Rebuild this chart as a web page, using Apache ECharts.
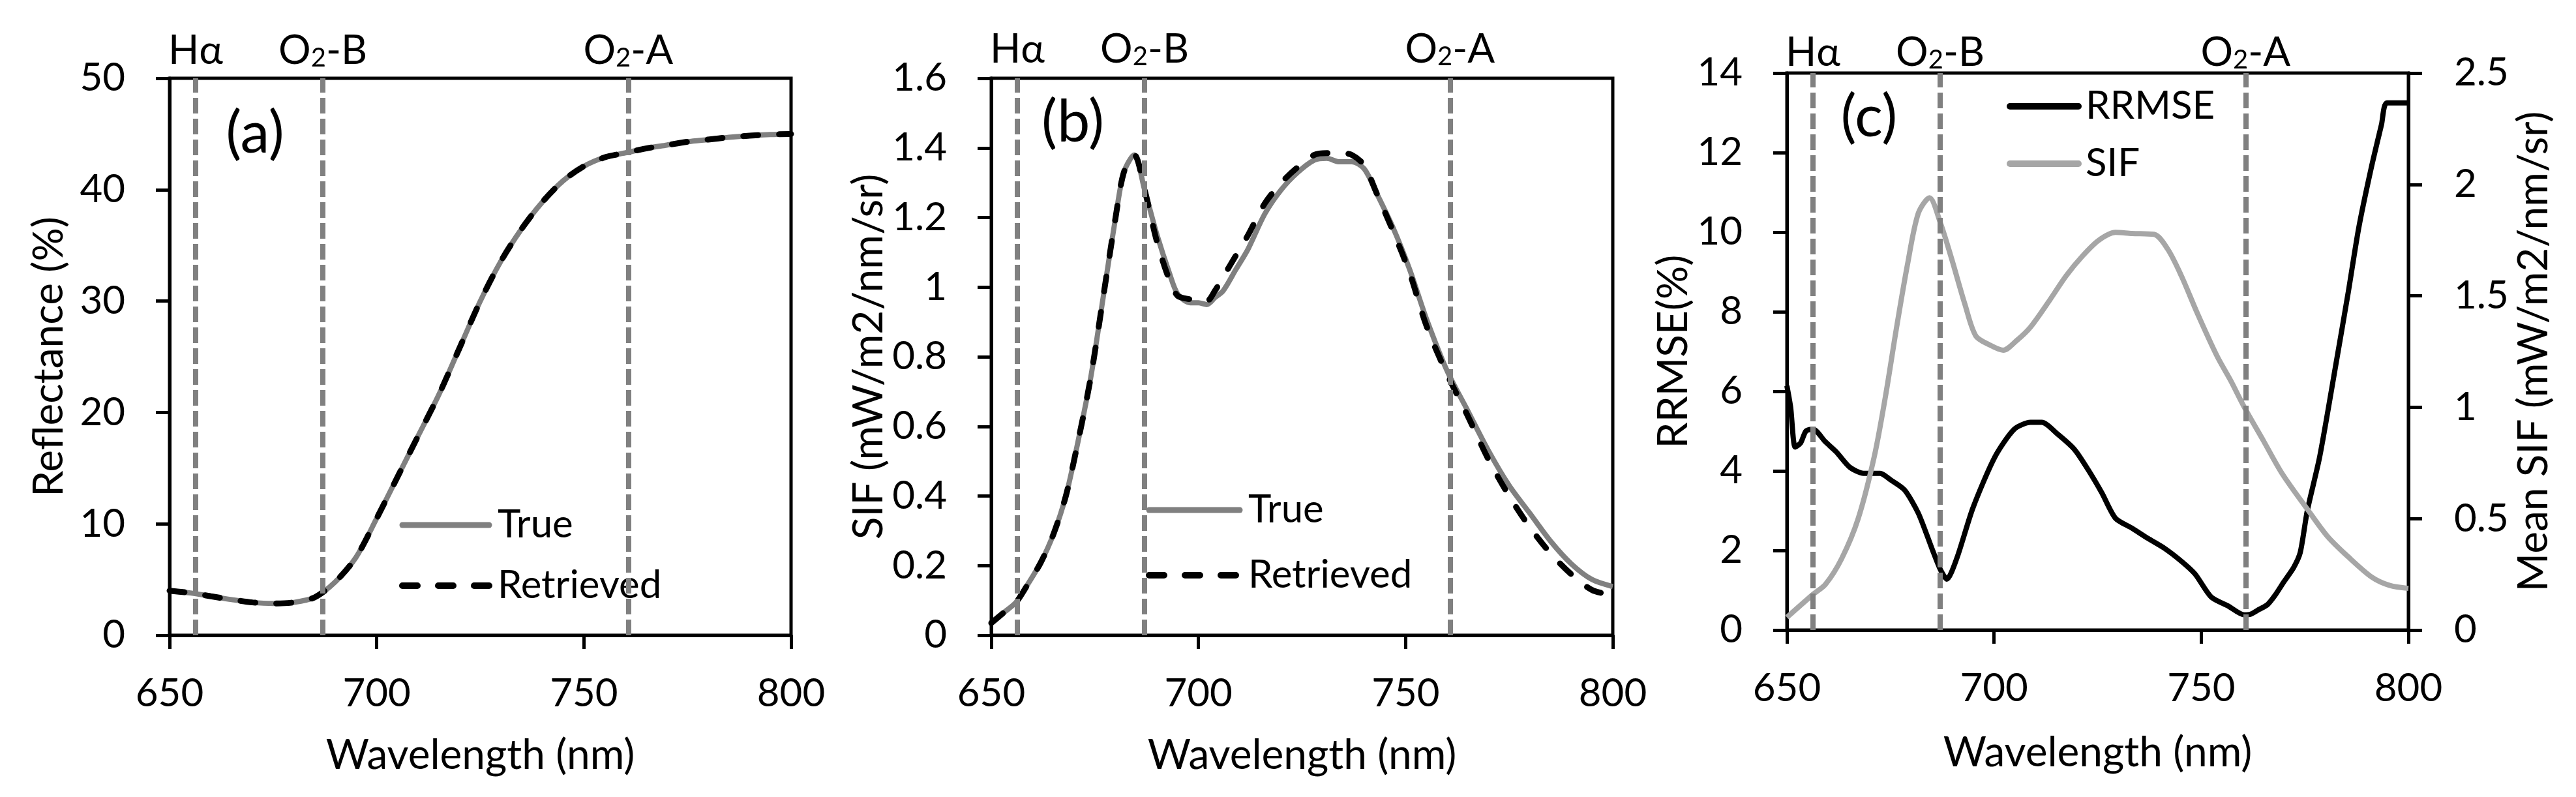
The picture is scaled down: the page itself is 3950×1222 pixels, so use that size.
<!DOCTYPE html>
<html><head><meta charset="utf-8">
<script src="https://cdn.jsdelivr.net/npm/echarts@6/dist/echarts.min.js"></script>
<style>html,body{margin:0;padding:0;background:#fff}#c{width:3950px;height:1222px}</style>
</head><body><div id="c"></div>
<script>
const FONT = 'Lato, "Noto Sans", "DejaVu Sans", sans-serif';

// ---------- Panel (a): reflectance ----------
const reflWl = [650,655,660,665,670,675,680,685,690,695,700,705,710,715,720,725,730,735,740,745,750,755,760,765,770,775,780,785,790,795,800];
const reflTrue = [4.0,3.8,3.5,3.2,2.95,2.85,2.95,3.4,4.8,7.0,10.5,14.2,17.9,21.6,25.8,30.0,33.6,36.5,38.9,40.8,42.1,42.9,43.3,43.7,44.0,44.3,44.5,44.7,44.85,44.95,45.0];
const reflRetrieved = [4.0,3.8,3.5,3.2,2.95,2.85,2.95,3.4,4.8,7.0,10.5,14.2,17.9,21.6,25.8,30.0,33.6,36.5,38.9,40.8,42.1,42.9,43.3,43.7,44.0,44.3,44.5,44.7,44.85,44.95,45.0];

// ---------- Panel (b): SIF ----------
const sifWl = [650,653,656,659,662,665,668,671,674,677,680,682,684.5,687,690,693,695,698,700,702,704,706,709,712,716,720,724,728,731,734,737,740,743,747,751,755,760,765,770,775,780,785,790,795,800];
const sifTrue = [0.035,0.065,0.095,0.15,0.21,0.29,0.40,0.56,0.74,0.97,1.2,1.33,1.38,1.28,1.15,1.04,0.98,0.955,0.955,0.95,0.97,0.99,1.05,1.11,1.21,1.28,1.33,1.365,1.37,1.36,1.36,1.34,1.27,1.17,1.05,0.91,0.76,0.645,0.53,0.43,0.35,0.27,0.205,0.16,0.14];
const sifRetrieved = [0.035,0.065,0.095,0.15,0.21,0.29,0.40,0.56,0.74,0.97,1.2,1.33,1.38,1.28,1.13,1.02,0.975,0.965,0.96,0.96,0.99,1.03,1.09,1.15,1.24,1.30,1.345,1.38,1.385,1.385,1.38,1.35,1.27,1.16,1.04,0.89,0.75,0.63,0.505,0.40,0.31,0.235,0.175,0.13,0.115];

// ---------- Panel (c): RRMSE and mean SIF ----------
const rrmseWl = [650,650.9,652,653.3,654.6,656.3,659.3,661.9,665.2,668.5,672.5,675.1,678.4,681.7,685,687,688.6,691,694.9,700.2,704.9,708.8,711.5,715.4,719.4,722.7,726,729.3,733.3,737.2,741.2,745.2,748.5,752.4,756.4,760.4,762,764,766,768,770,772.3,773.9,775.6,778.6,782.7,785.5,788,791,793.5,794.8,800];
const rrmse = [6.14,5.6,4.6,4.7,5.0,5.05,4.73,4.48,4.09,3.94,3.94,3.77,3.52,2.94,2.05,1.53,1.28,1.8,3.07,4.35,5.05,5.22,5.22,4.92,4.54,4.03,3.45,2.81,2.56,2.3,2.05,1.73,1.41,0.83,0.61,0.38,0.40,0.52,0.64,0.9,1.22,1.57,1.95,3.0,4.36,6.8,8.5,10.1,11.6,12.7,13.25,13.25];
const meanSifWl = [650,656.3,659.3,663.2,667.2,671.1,673.8,676.4,679.1,681.7,684.4,687,689.7,693,695.6,698.9,702.2,705.5,708.8,713.4,717.4,721.4,725.3,729.3,733.3,738.6,741.9,745.2,749.1,753.8,757.1,760.4,765,769.6,775.9,780.5,785.4,791.2,795.5,800];
const meanSif = [0.057,0.16,0.205,0.32,0.50,0.78,1.05,1.35,1.64,1.87,1.94,1.83,1.67,1.46,1.32,1.28,1.256,1.30,1.36,1.48,1.59,1.68,1.75,1.785,1.78,1.776,1.71,1.59,1.42,1.23,1.12,1.0,0.85,0.70,0.535,0.42,0.33,0.237,0.2,0.187];

// ---------- Absorption bands / labels ----------
const bandPos = [656.3, 687, 760.7];
const bandLabels = ['{n|Hα}', '{n|O}{s|2}{n|-B}', '{n|O}{s|2}{n|-A}'];
const panelLetters = ['(a)', '(b)', '(c)'];
const xTicks = [650, 700, 750, 800];
const yTicksA = [0, 10, 20, 30, 40, 50];
const yTicksB = [0, 0.2, 0.4, 0.6, 0.8, 1, 1.2, 1.4, 1.6];
const yTicksC = [0, 2, 4, 6, 8, 10, 12, 14];
const yTicksC2 = [0, 0.5, 1, 1.5, 2, 2.5];

const pairs = (xs, ys) => xs.map((x, i) => [x, ys[i]]);
const ticksOf = t => ({min: t[0], max: t[t.length - 1], interval: t[1] - t[0]});

const GRAY = '#808080', LIGHT = '#a6a6a6', BLACK = '#000';
const DASH = [23, 32];
const axisLine = {show: true, lineStyle: {color: BLACK, width: 5}};
const axisTick = {show: true, inside: false, length: 21, lineStyle: {color: BLACK, width: 5}};
const labelStyle = {fontFamily: FONT, fontSize: 60, color: BLACK};
const nameStyle = {fontFamily: FONT, fontSize: 64, color: BLACK};

function xAxis(gridIndex, gap) {
  return Object.assign({
    type: 'value', gridIndex,
    name: 'Wavelength (nm)', nameLocation: 'middle', nameGap: gap, nameTextStyle: nameStyle,
    axisLine, axisTick, splitLine: {show: false},
    axisLabel: Object.assign({margin: 60}, labelStyle)
  }, ticksOf(xTicks));
}
function yAxis(gridIndex, ticks, name, gap, pos) {
  return Object.assign({
    type: 'value', gridIndex, position: pos || 'left',
    name, nameLocation: 'middle', nameGap: gap, nameTextStyle: nameStyle,
    axisLine, axisTick, splitLine: {show: false},
    axisLabel: Object.assign({margin: pos === 'right' ? 70 : 68}, labelStyle)
  }, ticksOf(ticks));
}
function markLine(dist) {
  return {
    silent: true, symbol: ['none', 'none'], animation: false,
    lineStyle: {color: GRAY, width: 8, type: [24, 8]},
    label: {
      show: true, position: 'end', distance: dist,
      rich: {
        n: {fontFamily: FONT, fontSize: 62, lineHeight: 62, verticalAlign: 'top', color: BLACK},
        s: {fontFamily: FONT, fontSize: 40, lineHeight: 20, verticalAlign: 'bottom', color: BLACK}
      }
    },
    data: bandPos.map((v, i) => ({xAxis: v, label: {formatter: bandLabels[i]}}))
  };
}
function legItem(name, color, width, type) {
  return {name, itemStyle: {opacity: 0},
          lineStyle: {color, width, type, cap: 'round', opacity: 1}};
}
function legend(left, top, width, gap, items, pad) {
  return {
    orient: 'vertical', left, top, padding: 0, itemWidth: width, itemHeight: 12, itemGap: gap,
    selectedMode: false,
    textStyle: {fontFamily: FONT, fontSize: 60, color: BLACK, padding: [0, 0, 0, pad]},
    data: items
  };
}
const gridBase = {show: true, borderColor: BLACK, borderWidth: 5, backgroundColor: 'transparent', containLabel: false};
const letter = (t, x, y) => ({type: 'text', x, y, z: 10,
  style: {text: t, font: '90px ' + FONT, fill: BLACK, align: 'center', verticalAlign: 'middle'}});

const option = {
  animation: false,
  backgroundColor: '#fff',
  grid: [
    Object.assign({left: 260, top: 120, width: 953, height: 854}, gridBase),
    Object.assign({left: 1520, top: 120, width: 953, height: 854}, gridBase),
    Object.assign({left: 2740, top: 112, width: 953, height: 854}, gridBase)
  ],
  xAxis: [xAxis(0, 152), xAxis(1, 152), xAxis(2, 156)],
  yAxis: [
    yAxis(0, yTicksA, 'Reflectance (%)', 153),
    yAxis(1, yTicksB, 'SIF (mW/m2/nm/sr)', 153),
    yAxis(2, yTicksC, 'RRMSE(%)', 108),
    yAxis(2, yTicksC2, 'Mean SIF (mW/m2/nm/sr)', 160, 'right')
  ],
  legend: [
    legend(612, 775, 133, 33, [legItem('True', GRAY, 9, 'solid'), legItem('Retrieved', BLACK, 10, DASH)], 8),
    legend(1757, 752, 139, 40, [legItem('True', GRAY, 9, 'solid'), legItem('Retrieved', BLACK, 10, DASH)], 8),
    legend(3077, 133, 105, 28, [legItem('RRMSE', BLACK, 10, 'solid'), legItem('SIF', LIGHT, 10, 'solid')], 6)
  ],
  graphic: [
    letter(panelLetters[0], 391, 205),
    letter(panelLetters[1], 1645, 188),
    letter(panelLetters[2], 2866, 180)
  ],
  series: [
    {name: 'True', type: 'line', xAxisIndex: 0, yAxisIndex: 0, data: pairs(reflWl, reflTrue), symbol: 'none', smooth: 0.3, z: 2,
     lineStyle: {color: GRAY, width: 8}, itemStyle: {color: GRAY}, markLine: markLine(11)},
    {name: 'Retrieved', type: 'line', xAxisIndex: 0, yAxisIndex: 0, data: pairs(reflWl, reflRetrieved), symbol: 'none', smooth: 0.3, z: 3,
     lineStyle: {color: BLACK, width: 9, type: DASH, cap: 'round'}, itemStyle: {color: BLACK}},
    {name: 'True', type: 'line', xAxisIndex: 1, yAxisIndex: 1, data: pairs(sifWl, sifTrue), symbol: 'none', smooth: 0.3, z: 2,
     lineStyle: {color: GRAY, width: 8}, itemStyle: {color: GRAY}, markLine: markLine(13)},
    {name: 'Retrieved', type: 'line', xAxisIndex: 1, yAxisIndex: 1, data: pairs(sifWl, sifRetrieved), symbol: 'none', smooth: 0.3, z: 3,
     lineStyle: {color: BLACK, width: 9, type: DASH, cap: 'round'}, itemStyle: {color: BLACK}},
    {name: 'RRMSE', type: 'line', xAxisIndex: 2, yAxisIndex: 2, data: pairs(rrmseWl, rrmse), symbol: 'none', smooth: 0.25, z: 2,
     lineStyle: {color: BLACK, width: 8}, itemStyle: {color: BLACK}, markLine: markLine(0)},
    {name: 'SIF', type: 'line', xAxisIndex: 2, yAxisIndex: 3, data: pairs(meanSifWl, meanSif), symbol: 'none', smooth: 0.3, z: 3,
     lineStyle: {color: LIGHT, width: 8}, itemStyle: {color: LIGHT}}
  ]
};
const chart = echarts.init(document.getElementById('c'), null, {renderer: 'canvas'});
chart.setOption(option);
</script></body></html>
